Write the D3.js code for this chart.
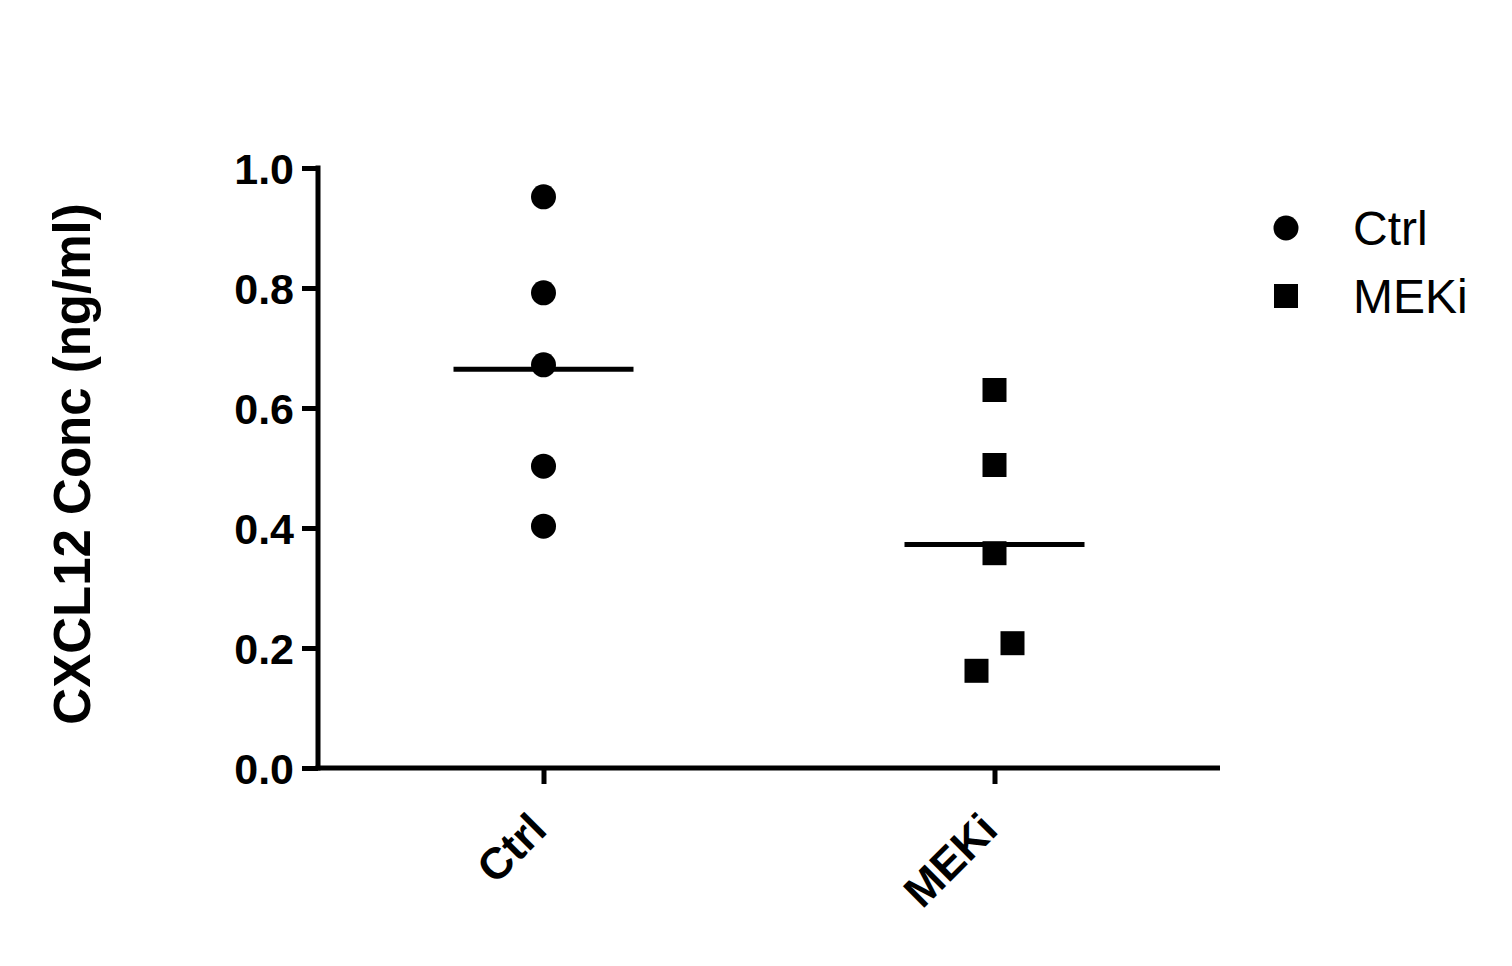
<!DOCTYPE html>
<html><head><meta charset="utf-8">
<script src="https://cdn.jsdelivr.net/npm/d3@7"></script>
<style>body{margin:0;background:#fff}svg{display:block}text{font-family:"Liberation Sans",Arial,sans-serif}</style>
</head><body>
<svg id="c" width="1512" height="966"></svg>
<script>
const categories = ["Ctrl", "MEKi"];
const ctrlValues = [0.952, 0.792, 0.672, 0.503, 0.403];
const mekiValues = [0.630, 0.505, 0.358, 0.208, 0.162];
const yTicks = [0.0, 0.2, 0.4, 0.6, 0.8, 1.0];
const yLabel = "CXCL12 Conc (ng/ml)";
const shapes = ["circle", "square"];

(function () {
const series = [ctrlValues, mekiValues];
const svg = d3.select("#c");
const pL = 318, pR = 1220, pT = 168, pB = 768;
const x = d3.scalePoint().domain(categories).range([pL, pR]).padding(0.5);
const y = d3.scaleLinear().domain([0, 1]).range([pB, pT]);
const sym = {circle: d3.symbolCircle, square: d3.symbolSquare};
const symSize = {circle: Math.PI * 12.5 * 12.5, square: 24 * 24};

// axes
const yAxis = svg.append("g").attr("transform", `translate(${pL},0)`)
  .call(d3.axisLeft(y).tickValues(yTicks).tickFormat(d3.format(".1f")).tickSize(16).tickPadding(8).tickSizeOuter(0));
const xAxis = svg.append("g").attr("transform", `translate(0,${pB})`)
  .call(d3.axisBottom(x).tickSize(16).tickSizeOuter(0));
[yAxis, xAxis].forEach(g => {
  g.select(".domain").attr("stroke", "#000").attr("stroke-width", 5);
  g.selectAll(".tick line").attr("stroke", "#000").attr("stroke-width", 5);
});
yAxis.select(".domain").attr("d", `M0,${pT - 2.5}V${pB + 2.5}`);
xAxis.select(".domain").attr("d", `M${pL - 2.5},0H${pR}`);
yAxis.selectAll(".tick text").attr("font-size", 43).attr("font-weight", "bold")
  .attr("fill", "#000").attr("font-family", "Liberation Sans, Arial, sans-serif").attr("dy", "0.36em");
xAxis.selectAll(".tick text").attr("font-size", 44).attr("font-weight", "bold")
  .attr("fill", "#000").attr("font-family", "Liberation Sans, Arial, sans-serif")
  .attr("text-anchor", "end").attr("dy", 0).attr("y", 0)
  .attr("transform", "translate(5,64) rotate(-45)");

// y label
svg.append("text").attr("transform", `translate(90,${(pT + pB) / 2 - 4}) rotate(-90)`)
  .attr("text-anchor", "middle").attr("font-size", 51).attr("font-weight", "bold").text(yLabel);

// points with simple dodge for near-overlapping values
series.forEach((vals, i) => {
  const cx = x(categories[i]);
  const sorted = vals.map((v, j) => ({v, j})).sort((a, b) => a.v - b.v);
  const off = new Array(vals.length).fill(0);
  for (let k = 0; k + 1 < sorted.length; k++) {
    const a = sorted[k], b = sorted[k + 1];
    if (Math.abs(y(a.v) - y(b.v)) < 30 && off[a.j] === 0 && off[b.j] === 0) {
      off[a.j] = -18; off[b.j] = 18;
    }
  }
  svg.append("g").selectAll("path").data(vals).join("path")
    .attr("d", d3.symbol().type(sym[shapes[i]]).size(symSize[shapes[i]]))
    .attr("transform", (d, j) => `translate(${cx + off[j]},${y(d)})`)
    .attr("fill", "#000");
  const m = d3.mean(vals);
  svg.append("line").attr("x1", cx - 90).attr("x2", cx + 90)
    .attr("y1", y(m)).attr("y2", y(m)).attr("stroke", "#000").attr("stroke-width", 5);
});

// legend
const lg = svg.append("g");
categories.forEach((c, i) => {
  const ly = 228 + i * 68;
  lg.append("path").attr("d", d3.symbol().type(sym[shapes[i]]).size(symSize[shapes[i]]))
    .attr("transform", `translate(1286,${ly})`).attr("fill", "#000");
  lg.append("text").attr("x", 1353).attr("y", ly).attr("dy", "0.36em")
    .attr("font-size", 48).attr("fill", "#000").text(c);
});
})();
</script>
</body></html>
